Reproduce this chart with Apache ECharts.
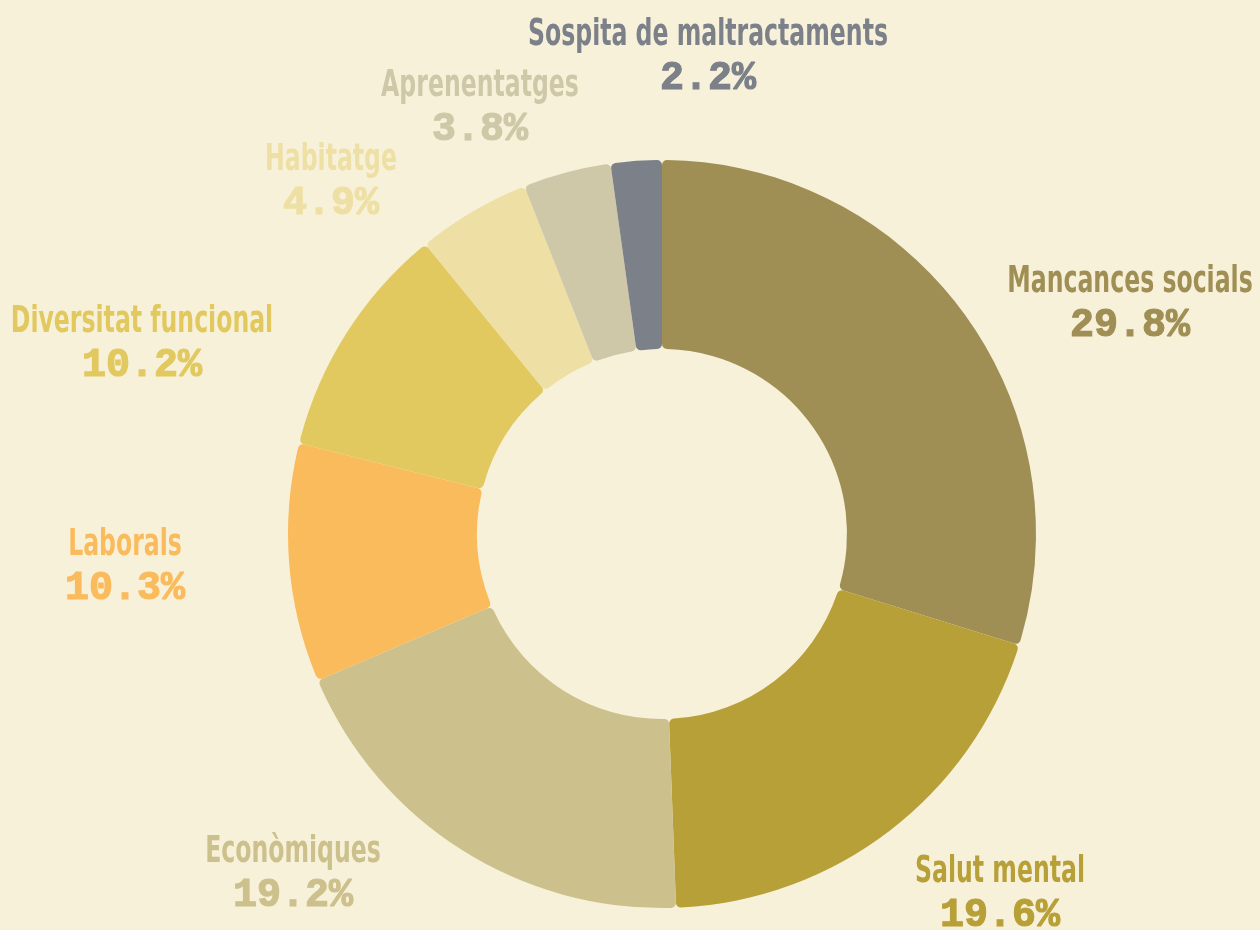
<!DOCTYPE html>
<html>
<head>
<meta charset="utf-8">
<script src="https://cdn.jsdelivr.net/npm/echarts@6/dist/echarts.min.js"></script>
<style>
html,body{margin:0;padding:0;background:#F8F1DA;}
#chart{width:1260px;height:930px;}
</style>
</head>
<body>
<div id="chart"></div>
<script>
// ---- data ----
const categories = ["Mancances socials","Salut mental","Econòmiques","Laborals","Diversitat funcional","Habitatge","Aprenentatges","Sospita de maltractaments"];
const values = [29.8, 19.6, 19.2, 10.3, 10.2, 4.9, 3.8, 2.2];
const colors = ["#A08F55","#B8A038","#CCC08C","#FABB5C","#E1C95F","#EEE0A4","#CEC8A8","#7B8089"];

// ---- layout (label anchor points, pixels) ----
const labelAnchors = [[1130,304],[1000,894],[293,874],[125,567],[142,344],[331,182],[480,108],[708,57]];

// Condensed look for category names: no condensed web font is available offline,
// so the (condensed) DejaVu face is squeezed horizontally when drawn.
const NAME_FAMILY = 'DejaVu Sans Condensed';
const SQUEEZE = 0.69;
(function () {
  const proto = CanvasRenderingContext2D.prototype;
  const origFill = proto.fillText;
  proto.fillText = function (t, x, y, mw) {
    if (mw === undefined && this.font.indexOf(NAME_FAMILY) >= 0) {
      const w = this.measureText(t).width;
      return origFill.call(this, t, x, y, Math.max(1, w * SQUEEZE));
    }
    return origFill.apply(this, arguments);
  };
})();

const chart = echarts.init(document.getElementById('chart'), null, {renderer:'canvas'});
const nameFont = "'" + NAME_FAMILY + "', sans-serif";
const pctFont = "'Liberation Mono', 'DejaVu Sans Mono', monospace";

chart.setOption({
  backgroundColor: '#F8F1DA',
  animation: false,
  series: [{
    type: 'pie',
    center: [662, 534],
    radius: [185, 374],
    startAngle: 90,
    clockwise: true,
    avoidLabelOverlap: false,
    itemStyle: { borderRadius: 5, borderWidth: 0 },
    labelLine: { show: false },
    label: {
      show: true,
      position: 'outside',
      formatter: p => '{n|' + p.name + '}\n{p|' + p.value.toFixed(1) + '%}',
      rich: {
        n: { fontFamily: nameFont, fontWeight: 'bold', fontSize: 38, lineHeight: 44, align: 'center' },
        p: { fontFamily: pctFont, fontWeight: 'bold', fontSize: 40, lineHeight: 44, align: 'center' }
      }
    },
    labelLayout: function (params) {
      const a = labelAnchors[params.dataIndex];
      return { x: a[0], y: a[1], align: 'center', verticalAlign: 'middle' };
    },
    data: categories.map((c, i) => ({
      name: c,
      value: values[i],
      itemStyle: { color: colors[i] },
      label: {
        color: colors[i],
        rich: {
          p: { color: colors[i], textBorderColor: colors[i], textBorderWidth: 1.2 }
        }
      }
    }))
  }]
});
</script>
</body>
</html>
